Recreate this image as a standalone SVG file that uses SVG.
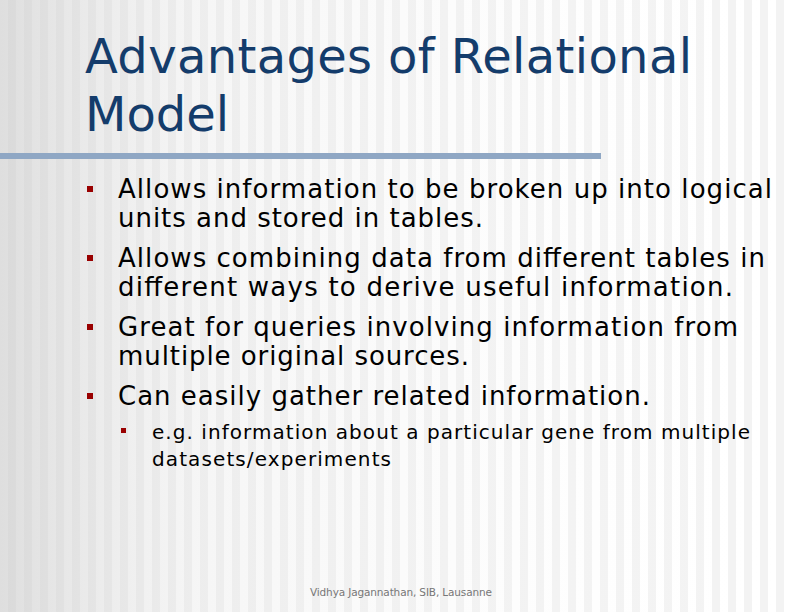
<svg xmlns="http://www.w3.org/2000/svg" width="790" height="612" viewBox="0 0 790 612">
<defs>
<pattern id="st" width="16" height="612" patternUnits="userSpaceOnUse">
<rect width="16" height="612" fill="#ffffff"/>
<rect x="8" width="8" height="612" fill="#f3f3f3"/>
</pattern>
<linearGradient id="g" x1="0" x2="1" y1="0" y2="0">
<stop offset="0" stop-color="#c8c8c8" stop-opacity="0.6"/>
<stop offset="0.25" stop-color="#e0e0e0" stop-opacity="0.3"/>
<stop offset="1" stop-color="#ffffff" stop-opacity="0"/>
</linearGradient>
</defs>
<style>
.t{font-family:"DejaVu Sans",sans-serif;font-size:48px;fill:#143c6b}
.b{font-family:"DejaVu Sans",sans-serif;font-size:26px;fill:#000}
.s{font-family:"DejaVu Sans",sans-serif;font-size:20px;fill:#000}
.m{fill:#990000}
</style>
<rect width="790" height="612" fill="url(#st)"/>
<rect width="790" height="612" fill="url(#g)"/>
<g id="title">
<text class="t" x="85" y="73" textLength="607" lengthAdjust="spacing">Advantages of Relational</text>
<text class="t" x="85" y="131">Model</text>
</g>
<rect id="rule" x="0" y="153" width="601" height="6" fill="#8fa7c4"/>
<g id="bullets">
<rect class="m" x="87" y="186" width="6" height="6"/>
<rect class="m" x="87" y="255" width="6" height="6"/>
<rect class="m" x="87" y="324" width="6" height="6"/>
<rect class="m" x="87" y="393" width="6" height="6"/>
<rect class="m" x="121" y="428" width="5" height="5"/>
<text class="b" x="118" y="198" textLength="654" lengthAdjust="spacing">Allows information to be broken up into logical</text>
<text class="b" x="118" y="227" textLength="365" lengthAdjust="spacing">units and stored in tables.</text>
<text class="b" x="118" y="267" textLength="647" lengthAdjust="spacing">Allows combining data from different tables in</text>
<text class="b" x="118" y="296" textLength="615" lengthAdjust="spacing">different ways to derive useful information.</text>
<text class="b" x="118" y="336" textLength="620" lengthAdjust="spacing">Great for queries involving information from</text>
<text class="b" x="118" y="365" textLength="351" lengthAdjust="spacing">multiple original sources.</text>
<text class="b" x="118" y="405" textLength="532" lengthAdjust="spacing">Can easily gather related information.</text>
<text class="s" x="152" y="439" textLength="598" lengthAdjust="spacing">e.g. information about a particular gene from multiple</text>
<text class="s" x="152" y="466" textLength="239" lengthAdjust="spacing">datasets/experiments</text>
</g>
<text id="footer" x="310" y="596" font-family="'DejaVu Sans',sans-serif" font-size="10.5" fill="#777" textLength="182" lengthAdjust="spacing">Vidhya Jagannathan, SIB, Lausanne</text>
</svg>
